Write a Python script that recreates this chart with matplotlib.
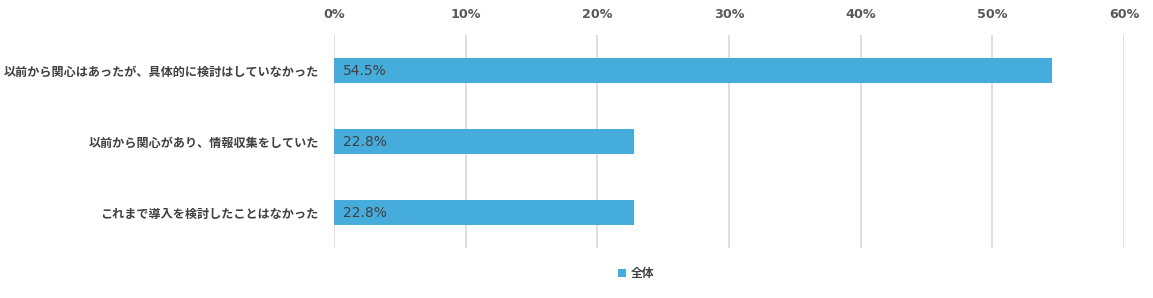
import matplotlib
matplotlib.use("Agg")
import matplotlib.pyplot as plt

categories = ["以前から関心はあったが、具体的に検討はしていなかった",
              "以前から関心があり、情報収集をしていた",
              "これまで導入を検討したことはなかった"]
values = [54.5, 22.8, 22.8]
xticks = [0, 10, 20, 30, 40, 50, 60]
xtick_labels = ["0%", "10%", "20%", "30%", "40%", "50%", "60%"]
series_name = "全体"

plt.rcParams['font.family'] = ['Noto Sans CJK JP', 'DejaVu Sans']

fig = plt.figure(figsize=(11.53, 2.98), dpi=100)
ax = fig.add_axes([334/1153, 1-248/298, (1124-334)/1153, 213/298])

color = "#45ACDC"
ypos = list(range(len(categories)))
ax.barh(ypos, values, height=0.35, color=color, label=series_name, zorder=3)
ax.set_ylim(len(categories)-0.5, -0.5)
ax.set_xlim(0, 60)
ax.set_yticks(ypos)
ax.set_yticklabels(categories, fontsize=8.7, color="#404040", fontweight="bold")
ax.xaxis.tick_top()
ax.set_xticks(xticks)
ax.set_xticklabels(xtick_labels, fontsize=9.2, color="#595959", fontweight="bold",
                   family="DejaVu Sans")
ax.tick_params(axis='both', length=0)
ax.tick_params(axis='x', pad=10)
ax.tick_params(axis='y', pad=11)
ax.grid(axis='x', color="#D9D9D9", linewidth=1.2, zorder=0)
for s in ax.spines.values():
    s.set_visible(False)

for y, v in zip(ypos, values):
    ax.text(0.65, y, f"{v}%", va="center", ha="left", fontsize=10, color="#404040",
            family="DejaVu Sans", zorder=4)

leg = ax.legend(loc="upper center", bbox_to_anchor=((636-334)/790, -0.04),
                frameon=False, handlelength=0.7, handleheight=0.7, handletextpad=0.4,
                prop={'weight': 'bold', 'size': 8.5})
for t in leg.get_texts():
    t.set_color("#404040")

fig.savefig("out.png", dpi=100)
